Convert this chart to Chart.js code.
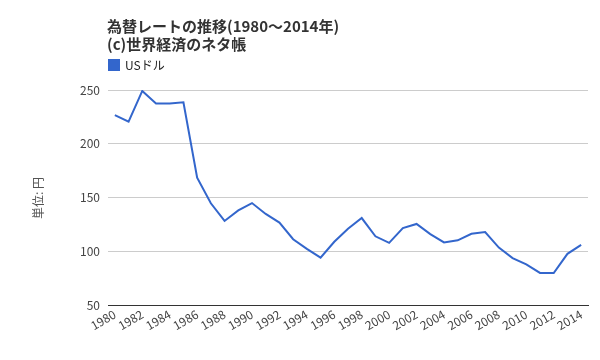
<!DOCTYPE html>
<html>
<head>
<meta charset="utf-8">
<script src="https://cdn.jsdelivr.net/npm/chart.js@4/dist/chart.umd.min.js"></script>
<style>
  html, body { margin: 0; padding: 0; background: #fff; }
</style>
</head>
<body>
<canvas id="myChart" width="600" height="360"></canvas>
<script>
const years = ['1980','1981','1982','1983','1984','1985','1986','1987','1988','1989',
    '1990','1991','1992','1993','1994','1995','1996','1997','1998','1999',
    '2000','2001','2002','2003','2004','2005','2006','2007','2008','2009',
    '2010','2011','2012','2013','2014'];
const usdJpy = [226.7, 220.5, 249.1, 237.5, 237.5, 238.5, 168.5, 144.6, 128.2, 138.0,
    144.8, 134.7, 126.7, 111.2, 102.2, 94.1, 108.8, 121.0, 130.9, 113.9,
    107.8, 121.5, 125.4, 115.9, 108.2, 110.2, 116.3, 117.8, 103.4, 93.6,
    87.8, 79.8, 79.8, 97.6, 105.9];
const yTicks = [50, 100, 150, 200, 250];
const titleLines = ['為替レートの推移(1980〜2014年)', '(c)世界経済のネタ帳'];
const seriesName = 'USドル';
const yTitle = '単位: 円';

const fontFamily = '"Noto Sans CJK JP", "Noto Sans", sans-serif';

// title, legend and y axis title drawn by hand, Google Charts style
const headerPlugin = {
    id: 'header',
    afterDraw(chart) {
        const c = chart.ctx;
        c.save();
        c.fillStyle = '#333';
        c.font = 'bold 15px ' + fontFamily;
        c.textBaseline = 'middle';
        c.textAlign = 'left';
        c.fillText(titleLines[0], 107, 26);
        c.fillText(titleLines[1], 107, 44);

        c.fillStyle = '#3366cc';
        c.fillRect(108, 59, 12, 12);
        c.fillStyle = '#222';
        c.font = '12px ' + fontFamily;
        c.fillText(seriesName, 125, 65);

        c.translate(38, 198);
        c.rotate(-Math.PI / 2);
        c.textAlign = 'center';
        c.fillStyle = '#555';
        c.fillText(yTitle, 0, 0);
        c.restore();
    }
};

const ctx = document.getElementById('myChart').getContext('2d');
const myChart = new Chart(ctx, {
    type: 'line',
    data: {
        labels: years,
        datasets: [{
            label: seriesName,
            data: usdJpy,
            borderColor: '#3366cc',
            borderWidth: 2,
            pointRadius: 0,
            tension: 0
        }]
    },
    options: {
        responsive: false,
        animation: false,
        devicePixelRatio: 1,
        layout: { padding: { top: 90, right: 12, left: 0, bottom: 0 } },
        plugins: {
            legend: { display: false },
            title: { display: false },
            tooltip: { enabled: false }
        },
        scales: {
            x: {
                offset: true,
                grid: { display: false, drawTicks: false },
                border: { color: '#333', width: 1 },
                ticks: {
                    autoSkip: false,
                    maxRotation: 30,
                    minRotation: 30,
                    padding: 2,
                    color: '#444',
                    font: { family: fontFamily, size: 12 },
                    callback: function (value, index) {
                        return index % 2 === 0 ? years[index] : '';
                    }
                },
                afterFit: s => { s.height = 55; }
            },
            y: {
                min: 50,
                max: 250,
                afterBuildTicks: s => { s.ticks = yTicks.map(v => ({ value: v })); },
                grid: { color: '#ccc', drawTicks: false },
                border: { display: false },
                ticks: {
                    padding: 8,
                    color: '#444',
                    font: { family: fontFamily, size: 12 }
                },
                afterFit: s => { s.width = 108; }
            }
        }
    },
    plugins: [headerPlugin]
});
</script>
</body>
</html>
